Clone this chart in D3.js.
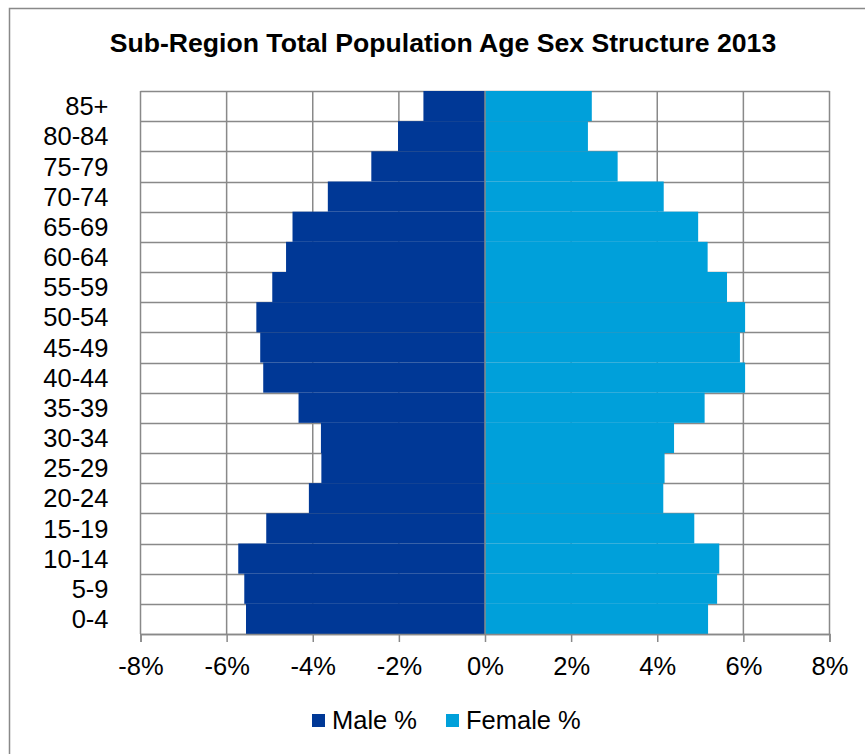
<!DOCTYPE html>
<html>
<head>
<meta charset="utf-8">
<script src="https://cdn.jsdelivr.net/npm/d3@7"></script>
<style>
  html, body { margin: 0; padding: 0; background: #fff; }
  svg { display: block; }
  text { font-family: "Liberation Sans", Arial, sans-serif; fill: #000; }
</style>
</head>
<body>
<svg id="chart" width="865" height="754"></svg>
<script>
// ---- data (top row first) ----
const ageGroups = ["85+","80-84","75-79","70-74","65-69","60-64","55-59","50-54","45-49","40-44","35-39","30-34","25-29","20-24","15-19","10-14","5-9","0-4"];
const malePct   = [1.43, 2.02, 2.64, 3.65, 4.47, 4.62, 4.94, 5.31, 5.22, 5.15, 4.33, 3.81, 3.80, 4.09, 5.08, 5.73, 5.59, 5.55];
const femalePct = [2.48, 2.39, 3.08, 4.15, 4.95, 5.17, 5.62, 6.04, 5.92, 6.04, 5.10, 4.39, 4.17, 4.14, 4.86, 5.44, 5.39, 5.18];
const xTicks    = [-8, -6, -4, -2, 0, 2, 4, 6, 8];
const seriesNames = ["Male %", "Female %"];
const titleText = "Sub-Region Total Population Age Sex Structure 2013";

const maleColor = "#003896";
const femaleColor = "#00a0da";
const gridColor = "#898989";

const svg = d3.select("#chart");

// outer chart border
svg.append("rect")
  .attr("x", 9.5).attr("y", 8.5)
  .attr("width", 900).attr("height", 800)
  .attr("fill", "#fff").attr("stroke", gridColor).attr("stroke-width", 1.5);

// title
svg.append("text")
  .attr("x", 443).attr("y", 52)
  .attr("text-anchor", "middle")
  .style("font-size", "26.6px").style("font-weight", "bold")
  .text(titleText);

const plotL = 140.5, plotR = 829.5, plotT = 91, plotB = 634;
const x = d3.scaleLinear().domain([-8, 8]).range([plotL, plotR]);
const y = d3.scaleBand().domain(ageGroups).range([plotT, plotB]).padding(0);

const g = svg.append("g");

// horizontal gridlines at band boundaries
const bounds = ageGroups.map(d => y(d)).concat([plotB]);
g.selectAll("line.hgrid").data(bounds).join("line")
  .attr("class", "hgrid")
  .attr("x1", plotL).attr("x2", plotR)
  .attr("y1", d => Math.round(d) + 0.5).attr("y2", d => Math.round(d) + 0.5)
  .attr("stroke", gridColor).attr("stroke-width", 1.5);

// vertical gridlines
g.selectAll("line.vgrid").data(xTicks).join("line")
  .attr("class", "vgrid")
  .attr("x1", d => x(d)).attr("x2", d => x(d))
  .attr("y1", plotT).attr("y2", plotB)
  .attr("stroke", gridColor).attr("stroke-width", 1.5);

// bars
g.selectAll("rect.male").data(ageGroups).join("rect")
  .attr("class", "male")
  .attr("x", (d, i) => x(-malePct[i]))
  .attr("y", d => y(d))
  .attr("width", (d, i) => x(0) - x(-malePct[i]))
  .attr("height", y.bandwidth())
  .attr("fill", maleColor);

g.selectAll("rect.female").data(ageGroups).join("rect")
  .attr("class", "female")
  .attr("x", x(0))
  .attr("y", d => y(d))
  .attr("width", (d, i) => x(femalePct[i]) - x(0))
  .attr("height", y.bandwidth())
  .attr("fill", femaleColor);

// zero line
g.append("line")
  .attr("x1", x(0)).attr("x2", x(0)).attr("y1", plotT).attr("y2", plotB)
  .attr("stroke", gridColor).attr("stroke-width", 1.5);

// x axis
const xAxis = d3.axisBottom(x)
  .tickValues(xTicks)
  .tickFormat(d => d + "%")
  .tickSize(8).tickPadding(15);
const xa = svg.append("g").attr("transform", `translate(0,${plotB})`).call(xAxis);
xa.select(".domain").attr("stroke", gridColor).attr("stroke-width", 1.5);
xa.selectAll(".tick line").attr("stroke", gridColor).attr("stroke-width", 1.5);
xa.selectAll("text").style("font-size", "25.5px")
  .style("font-family", '"Liberation Sans", Arial, sans-serif').attr("fill", "#000");

// y axis
const yAxis = d3.axisLeft(y).tickSize(0).tickPadding(32);
const ya = svg.append("g").attr("transform", `translate(${plotL},0)`).call(yAxis);
ya.select(".domain").remove();
ya.selectAll("text").style("font-size", "25.5px")
  .style("font-family", '"Liberation Sans", Arial, sans-serif').attr("fill", "#000")
  .attr("dy", "0.36em");

// legend
const legendItems = [
  { name: seriesNames[0], color: maleColor, sx: 312, tx: 332 },
  { name: seriesNames[1], color: femaleColor, sx: 446, tx: 466 }
];
const lg = svg.append("g");
lg.selectAll("rect").data(legendItems).join("rect")
  .attr("x", d => d.sx).attr("y", 714).attr("width", 13).attr("height", 13)
  .attr("fill", d => d.color);
lg.selectAll("text").data(legendItems).join("text")
  .attr("x", d => d.tx).attr("y", 729)
  .style("font-size", "25.5px")
  .text(d => d.name);
</script>
</body>
</html>
